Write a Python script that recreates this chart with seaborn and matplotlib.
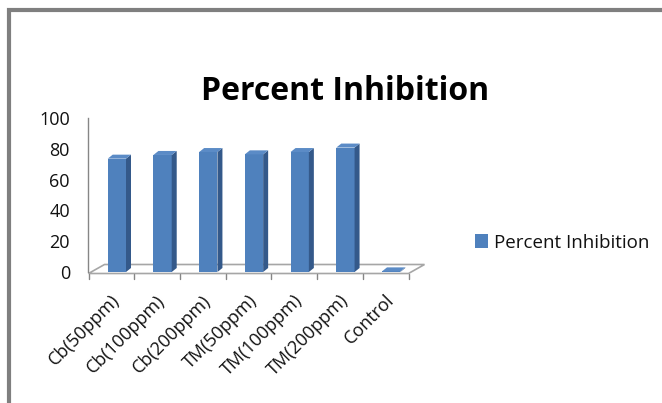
import matplotlib
matplotlib.use("Agg")
import numpy as np
import pandas as pd
import seaborn as sns
import matplotlib.pyplot as plt
from matplotlib.patches import Polygon, Rectangle, Patch
from matplotlib.lines import Line2D
from matplotlib.transforms import IdentityTransform

# Data
categories = ["Cb(50ppm)", "Cb(100ppm)", "Cb(200ppm)",
              "TM(50ppm)", "TM(100ppm)", "TM(200ppm)", "Control"]
inhibition = [73.6, 76.0, 77.9, 76.4, 77.9, 80.8, 0.4]
y_ticks = [0, 20, 40, 60, 80, 100]
series_name = "Percent Inhibition"
chart_title = "Percent Inhibition"

FRONT = "#4f81bd"
SIDE = "#34598a"
TOP = "#5b8bc6"
AXIS = "#868686"
TEXT = "#111111"

sns.set_theme(style="white")
plt.rcParams["font.family"] = ["Open Sans", "DejaVu Sans"]

W, H = 662, 403
fig = plt.figure(figsize=(W / 100, H / 100), dpi=100)
fig.patch.set_facecolor("white")

# chart frame (top and left edges visible)
fig.add_artist(Rectangle((9 / W, -0.1), 1.2, (H - 10) / H + 0.1,
                         transform=fig.transFigure, fill=False,
                         edgecolor="#7f7f7f", linewidth=3.0))

ax = fig.add_axes([94 / W, (H - 272) / H, 320 / W, 154 / H])
df = pd.DataFrame({"Treatment": categories, "Inhibition": inhibition})
sns.barplot(data=df, x="Treatment", y="Inhibition", color=FRONT,
            saturation=1, width=0.40, linewidth=0, ax=ax, zorder=3)
bars = list(ax.containers[0])
ax.set_xlim(-0.5, len(categories) - 0.5)
ax.set_ylim(0, 100)
ax.set_yticks(y_ticks)
ax.set_xlabel("")
ax.set_ylabel("")
ax.set_facecolor("none")

for s in ["top", "right", "bottom"]:
    ax.spines[s].set_visible(False)
ax.spines["left"].set_position(("outward", 4))
ax.spines["left"].set_color(AXIS)
ax.spines["left"].set_linewidth(1.0)
ax.tick_params(axis="y", direction="out", length=4.3, width=1.0,
               color=AXIS, labelsize=13, pad=9, labelcolor=TEXT)
ax.tick_params(axis="x", length=0, pad=18.5, labelsize=13, labelcolor=TEXT)
for lab in ax.get_xticklabels():
    lab.set_rotation(45)
    lab.set_ha("right")
    lab.set_va("center")
    lab.set_rotation_mode("anchor")

to_px = ax.transData.transform


def add_poly(pts, **kw):
    p = Polygon(np.asarray(pts), closed=True, transform=IdentityTransform(),
                clip_on=False, **kw)
    ax.add_artist(p)
    return p


# floor of the 3-D plot
x0, x1 = ax.get_xlim()
fl = to_px([(x0, 0)])[0]
fr = to_px([(x1, 0)])[0]
front_off = np.array([-5.5, -1.5])
back_off = np.array([10.5, 7.5])
add_poly([fl + front_off, fr + front_off, fr + back_off, fl + back_off],
         facecolor="white", edgecolor="#a6a6a6", linewidth=1.2, zorder=1)

# category tick marks on the front edge of the floor
for k in range(len(categories) + 1):
    p = to_px([(x0 + k, 0)])[0] + front_off
    ax.add_artist(Line2D([p[0], p[0]], [p[1], p[1] - 5], color=AXIS,
                         linewidth=1.0, transform=IdentityTransform(),
                         clip_on=False, zorder=1))

# depth faces of the columns
depth = np.array([5.0, 4.0])
for bar in bars:
    bx, bw, bh = bar.get_x(), bar.get_width(), bar.get_height()
    bl, br, tr, tl = to_px([(bx, 0), (bx + bw, 0), (bx + bw, bh), (bx, bh)])
    add_poly([br, br + depth, tr + depth, tr], facecolor=SIDE,
             edgecolor="none", zorder=3.1)
    add_poly([tl, tr, tr + depth, tl + depth], facecolor=TOP,
             edgecolor="none", zorder=3.2)

# title
fig.text(345.5 / W, (H - 100) / H, chart_title, ha="center", va="baseline",
         fontsize=23, fontweight="bold", color="black")

# legend
ax.legend(handles=[Patch(facecolor=FRONT, edgecolor="none", label=series_name)],
          loc="center left", bbox_to_anchor=(475 / W, (H - 242.5) / H),
          bbox_transform=fig.transFigure, frameon=False, fontsize=13.5,
          handlelength=0.7, handleheight=0.7, handletextpad=0.3,
          borderpad=0, borderaxespad=0, labelcolor=TEXT)

fig.savefig("out.png", dpi=100, facecolor="white")
